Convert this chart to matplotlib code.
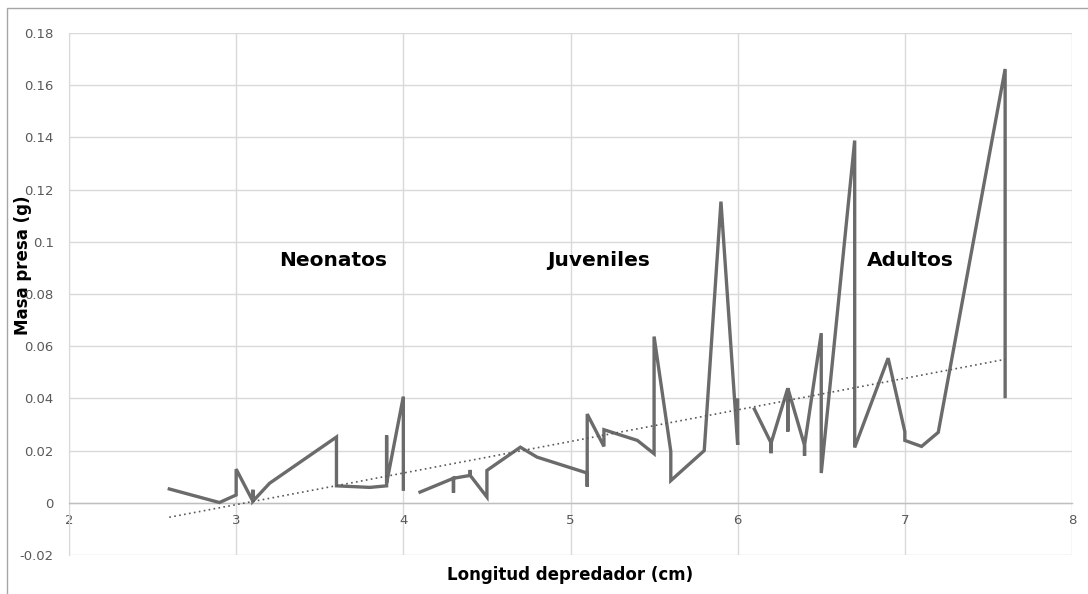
import numpy as np
import matplotlib
matplotlib.use("Agg")
import matplotlib.pyplot as plt
from matplotlib.patches import Rectangle

nan = np.nan
# Predator length (cm) and prey mass (g); nan marks gaps in the line
longitud = [2.6, 2.9, 3.0, 3.0, 3.1, 3.1, 3.1, 3.2, 3.6, 3.6, 3.8, 3.9, 3.9, 3.9, 4.0, 4.0, nan,
            4.1, 4.3, 4.3, 4.3, 4.4, 4.4, 4.4, 4.5, 4.5, 4.7, 4.8, 5.1, 5.1, 5.1, 5.2, 5.2,
            5.4, 5.5, 5.5, 5.6, 5.6, 5.8, 5.9, 6.0, 6.0, nan,
            6.1, 6.2, 6.2, 6.2, 6.3, 6.3, 6.3, 6.4, 6.4, 6.4, 6.5, 6.5, 6.7, 6.7, 6.9, 7.0, 7.0,
            7.1, 7.2, 7.6, 7.6]
masa = [0.0053, 0.0001, 0.003, 0.0129, 0.0006, 0.005, 0.0006, 0.0075, 0.0252, 0.0065, 0.0059, 0.0065, 0.0258, 0.0075, 0.0407, 0.0052, nan,
        0.0041, 0.0094, 0.0039, 0.0094, 0.0105, 0.0126, 0.0105, 0.0022, 0.0124, 0.0213, 0.0175, 0.0114, 0.0062, 0.034, 0.0216, 0.028,
        0.0239, 0.0188, 0.0637, 0.0197, 0.0085, 0.020, 0.1154, 0.0222, 0.0394, nan,
        0.0359, 0.0229, 0.019, 0.0229, 0.0439, 0.0273, 0.0439, 0.022, 0.018, 0.022, 0.065, 0.0114, 0.1388, 0.0212, 0.0554, 0.0273, 0.0239,
        0.0216, 0.027, 0.1662, 0.0407]

# Linear trend line (as drawn in the reference)
trend_slope = 0.0121
trend_intercept = -0.0370
trend_x = [2.6, 7.6]

x_ticks = [2, 3, 4, 5, 6, 7, 8]
y_ticks = [-0.02, 0, 0.02, 0.04, 0.06, 0.08, 0.1, 0.12, 0.14, 0.16, 0.18]
y_tick_labels = ["-0.02", "0", "0.02", "0.04", "0.06", "0.08", "0.1", "0.12", "0.14", "0.16", "0.18"]

groups = ["Neonatos", "Juveniles", "Adultos"]
group_x = [3.58, 5.17, 7.03]
group_y = [0.093, 0.093, 0.093]

W, H = 1088, 594
fig = plt.figure(figsize=(W / 100, H / 100), dpi=100)
ax = fig.add_axes([69 / W, (H - 555) / H, (1072 - 69) / W, (555 - 33) / H])

ax.set_xlim(2, 8)
ax.set_ylim(-0.02, 0.18)
ax.set_xticks(x_ticks)
ax.set_xticklabels([str(v) for v in x_ticks])
ax.set_yticks(y_ticks)
ax.set_yticklabels(y_tick_labels)
ax.grid(True, color="#d9d9d9", linewidth=1.0)
ax.set_axisbelow(True)
for s in ["top", "right"]:
    ax.spines[s].set_visible(False)
ax.spines["left"].set_color("#d9d9d9")
ax.spines["bottom"].set_position(("data", 0))
ax.spines["bottom"].set_color("#bfbfbf")
ax.spines["bottom"].set_linewidth(1.0)
ax.tick_params(axis="both", length=0, labelcolor="#595959", labelsize=9.5)
ax.tick_params(axis="y", pad=11)
ax.tick_params(axis="x", pad=8)

ax.plot(longitud, masa, color="#6b6b6b", linewidth=2.4, solid_joinstyle="miter", zorder=3)
tx = np.array(trend_x)
ax.plot(tx, trend_slope * tx + trend_intercept, color="#595959", linewidth=1.2,
        linestyle=(0, (1, 2)), zorder=4)

for g, gx, gy in zip(groups, group_x, group_y):
    ax.text(gx, gy, g, fontsize=14.5, fontweight="bold", ha="center", va="center", color="black")

fig.text((570) / W, 1 - 575 / H, "Longitud depredador (cm)", fontsize=12, fontweight="bold",
         ha="center", va="center")
fig.text(23 / W, 1 - 265 / H, "Masa presa (g)", fontsize=12, fontweight="bold",
         ha="center", va="center", rotation=90)

fig.patches.append(Rectangle((7 / W, -0.1), 1.2, 1 - 8 / H + 0.1, transform=fig.transFigure,
                             fill=False, edgecolor="#a6a6a6", linewidth=1.0))

fig.savefig("out.png", dpi=100)
